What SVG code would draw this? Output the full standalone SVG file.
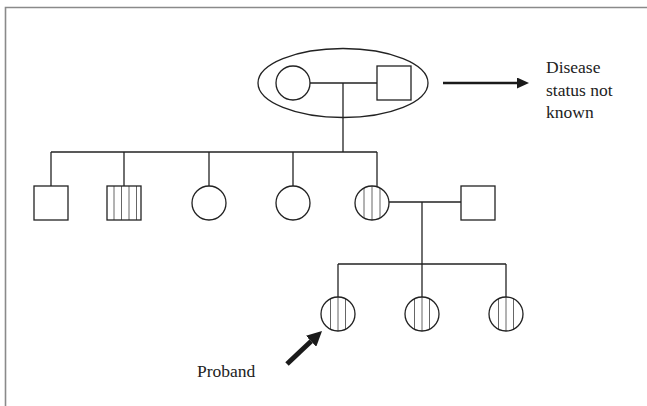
<svg xmlns="http://www.w3.org/2000/svg" width="647" height="406" viewBox="0 0 647 406">
  <defs>
    <style>
      .frame { stroke: #8a8a8a; stroke-width: 1.6; fill: none; }
      .node { fill: #fff; stroke: #222; stroke-width: 1.3; }
      .outline { fill: none; stroke: #222; stroke-width: 1.3; }
      .stripe { stroke: #666; stroke-width: 1; }
      .link { stroke: #222; stroke-width: 1.3; fill: none; }
      text { font-family: 'Liberation Serif', 'Times New Roman', 'DejaVu Serif', serif; font-size: 17.5px; fill: #222; }
    </style>
    <marker id="headThin" markerUnits="userSpaceOnUse" markerWidth="12" markerHeight="11" refX="0" refY="5.5" orient="auto" viewBox="0 0 12 11">
      <path d="M0,0 L12,5.5 L0,11 z" fill="#1a1a1a"/>
    </marker>
    <marker id="headThick" markerUnits="userSpaceOnUse" markerWidth="15" markerHeight="15" refX="0" refY="7.5" orient="auto" viewBox="0 0 15 15">
      <path d="M0,0 L15,7.5 L0,15 z" fill="#1a1a1a"/>
    </marker>
  </defs>

  <rect x="0" y="0" width="647" height="406" fill="#fff"/>

  <!-- page frame -->
  <path class="frame" d="M5.5,406 V7.5 H647"/>

  <!-- connectors -->
  <g id="connectors">
    <!-- founding couple and their sibship -->
    <line class="link" x1="310" y1="83" x2="377" y2="83"/>
    <line class="link" x1="343" y1="83" x2="343" y2="152"/>
    <line class="link" x1="51" y1="152" x2="377" y2="152"/>
    <line class="link" x1="51" y1="152" x2="51" y2="186"/>
    <line class="link" x1="124" y1="152" x2="124" y2="186"/>
    <line class="link" x1="209" y1="152" x2="209" y2="186"/>
    <line class="link" x1="293" y1="152" x2="293" y2="186"/>
    <line class="link" x1="377" y1="152" x2="377" y2="187"/>
    <!-- second couple and their children -->
    <line class="link" x1="389" y1="202" x2="461" y2="202"/>
    <line class="link" x1="422" y1="202" x2="422" y2="264"/>
    <line class="link" x1="338" y1="264" x2="506" y2="264"/>
    <line class="link" x1="338" y1="264" x2="338" y2="297"/>
    <line class="link" x1="422" y1="264" x2="422" y2="297"/>
    <line class="link" x1="506" y1="264" x2="506" y2="297"/>
    <!-- pointer arrows -->
    <line x1="443" y1="83" x2="517" y2="83" stroke="#1a1a1a" stroke-width="2.6" marker-end="url(#headThin)"/>
    <line x1="287" y1="364" x2="311.1" y2="341.3" stroke="#1a1a1a" stroke-width="5" marker-end="url(#headThick)"/>
  </g>

  <!-- generation I -->
  <g id="couple-unknown">
    <ellipse class="outline" cx="343" cy="83" rx="85" ry="34.5"/>
  </g>
  <g id="i1">
    <circle class="node" cx="293" cy="83" r="17"/>
  </g>
  <g id="i2">
    <rect class="node" x="377" y="66" width="34" height="34"/>
  </g>

  <!-- generation II -->
  <g id="ii1">
    <rect class="node" x="34" y="186" width="34" height="34"/>
  </g>
  <g id="ii2">
    <rect x="107" y="186" width="34" height="34" fill="#fff"/>
    <line class="stripe" x1="114" y1="186" x2="114" y2="220"/>
    <line class="stripe" x1="121.5" y1="186" x2="121.5" y2="220"/>
    <line class="stripe" x1="129" y1="186" x2="129" y2="220"/>
    <line class="stripe" x1="136.5" y1="186" x2="136.5" y2="220"/>
    <rect class="outline" x="107" y="186" width="34" height="34"/>
  </g>
  <g id="ii3">
    <circle class="node" cx="209" cy="203" r="17"/>
  </g>
  <g id="ii4">
    <circle class="node" cx="293" cy="203" r="17"/>
  </g>
  <g id="ii5">
    <circle cx="372" cy="203" r="17" fill="#fff"/>
    <line class="stripe" x1="364" y1="188" x2="364" y2="218"/>
    <line class="stripe" x1="372" y1="186" x2="372" y2="220"/>
    <line class="stripe" x1="380" y1="188" x2="380" y2="218"/>
    <circle class="outline" cx="372" cy="203" r="17"/>
  </g>
  <g id="ii6">
    <rect class="node" x="461" y="186" width="34" height="34"/>
  </g>

  <!-- generation III -->
  <g id="iii1">
    <circle cx="338" cy="314" r="17" fill="#fff"/>
    <line class="stripe" x1="330.5" y1="298.7" x2="330.5" y2="329.3"/>
    <line class="stripe" x1="338" y1="297" x2="338" y2="331"/>
    <line class="stripe" x1="345.5" y1="298.7" x2="345.5" y2="329.3"/>
    <circle class="outline" cx="338" cy="314" r="17"/>
  </g>
  <g id="iii2">
    <circle cx="422" cy="314" r="17" fill="#fff"/>
    <line class="stripe" x1="414.5" y1="298.7" x2="414.5" y2="329.3"/>
    <line class="stripe" x1="422" y1="297" x2="422" y2="331"/>
    <line class="stripe" x1="429.5" y1="298.7" x2="429.5" y2="329.3"/>
    <circle class="outline" cx="422" cy="314" r="17"/>
  </g>
  <g id="iii3">
    <circle cx="506" cy="314" r="17" fill="#fff"/>
    <line class="stripe" x1="498.5" y1="298.7" x2="498.5" y2="329.3"/>
    <line class="stripe" x1="506" y1="297" x2="506" y2="331"/>
    <line class="stripe" x1="513.5" y1="298.7" x2="513.5" y2="329.3"/>
    <circle class="outline" cx="506" cy="314" r="17"/>
  </g>

  <!-- labels -->
  <g id="legend-unknown">
    <text x="546" y="73" font-family="Liberation Serif, serif">Disease</text>
    <text x="546" y="96" font-family="Liberation Serif, serif">status not</text>
    <text x="546" y="118" font-family="Liberation Serif, serif">known</text>
  </g>
  <g id="legend-proband">
    <text x="197" y="377" font-family="Liberation Serif, serif">Proband</text>
  </g>
</svg>
